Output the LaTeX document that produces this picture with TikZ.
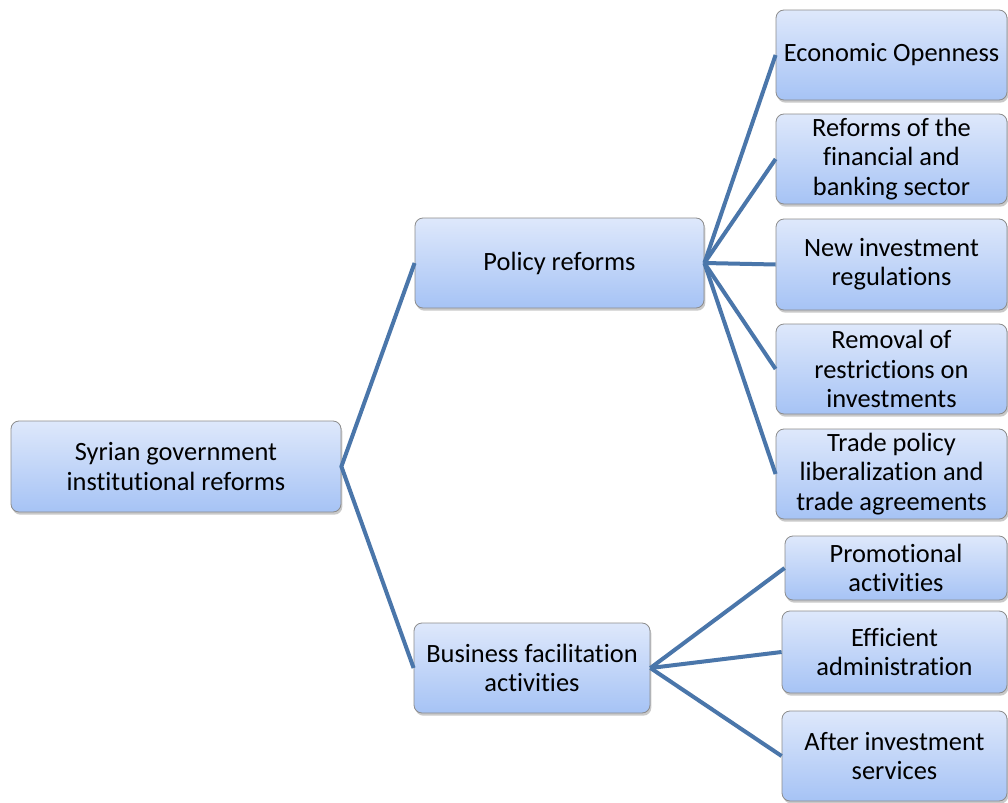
\documentclass[tikz,border=0pt]{standalone}
\usepackage{fontspec}
\setmainfont{Carlito}[Ligatures={NoCommon}]
\usetikzlibrary{shadows}
\begin{document}
\begin{tikzpicture}[x=0.75pt,y=-0.75pt,
  box/.style={draw=black!45, line width=0.6pt, rounded corners=6pt, inner sep=0pt,
    top color=boxtop, bottom color=boxbot, align=center,
    font=\fontsize{19.8}{21.9}\selectfont,
    drop shadow={shadow xshift=1pt, shadow yshift=-2pt, opacity=0.35, fill=black!60}},
  link/.style={draw=linkblue, line width=3pt}]
\definecolor{boxtop}{HTML}{DEE8FB}
\definecolor{boxbot}{HTML}{A6C3F5}
\definecolor{linkblue}{HTML}{4A76AA}
\useasboundingbox (0,0) rectangle (1008,803);
\clip (0,0) rectangle (1008,803);
\fill[white] (0,0) rectangle (1008,803);

\node[box, minimum width=247.5pt, minimum height=68.25pt] (root) at (176,466.5) {Syrian government\\institutional reforms};
\node[box, minimum width=216.75pt, minimum height=67.5pt] (policy) at (559.5,263) {Policy reforms};
\node[box, minimum width=177pt, minimum height=67.5pt] (business) at (532,668) {Business facilitation\\activities};

\node[box, minimum width=173.25pt, minimum height=67.5pt] (eo) at (891.5,55) {Economic Openness};
\node[box, minimum width=173.25pt, minimum height=67.5pt] (rf) at (891.5,159) {Reforms of the\\financial and\\banking sector};
\node[box, minimum width=173.25pt, minimum height=68.25pt] (ni) at (891.5,264.5) {New investment\\regulations};
\node[box, minimum width=173.25pt, minimum height=67.5pt] (rm) at (891.5,369) {Removal of\\restrictions on\\investments};
\node[box, minimum width=173.25pt, minimum height=67.5pt] (tp) at (891.5,474) {Trade policy\\liberalization and\\trade agreements};

\node[box, minimum width=166.5pt, minimum height=48pt] (pa) at (896,568) {Promotional\\activities};
\node[box, minimum width=168.75pt, minimum height=61.5pt] (ea) at (894.5,652) {Efficient\\administration};
\node[box, minimum width=168.75pt, minimum height=67.5pt] (ai) at (894.5,756) {After investment\\services};

\draw[link] (policy.west) -- (root.east) -- (business.west);
\foreach \t in {eo,rf,ni,rm,tp} \draw[link] (policy.east) -- (\t.west);
\foreach \t in {pa,ea,ai} \draw[link] (business.east) -- (\t.west);
\end{tikzpicture}
\end{document}
